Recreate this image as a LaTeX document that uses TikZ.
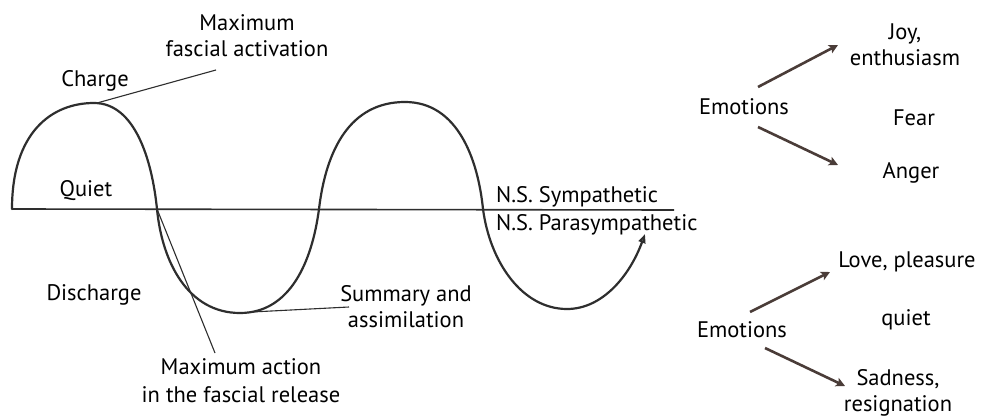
\documentclass[tikz,border=0pt]{standalone}
\usepackage{fontspec}
\setmainfont{PT Sans}
\usetikzlibrary{arrows.meta}
\definecolor{ink}{HTML}{2E2E2E}
\definecolor{brownink}{HTML}{4A3C38}
\tikzset{
  lbl/.style={font=\fontsize{22.5}{26}\selectfont, align=center, inner sep=0pt, text=black},
  wave/.style={draw=ink, line width=2.2pt, line join=round, line cap=round},
  axisline/.style={draw=ink, line width=1.6pt},
  leader/.style={draw=ink, line width=1.1pt},
  emoarrow/.style={draw=brownink, line width=2.6pt, -{Stealth[length=9pt,width=9pt,inset=2pt]}}
}
\begin{document}
\begin{tikzpicture}[x=1pt,y=-1pt]
\useasboundingbox (0,0) rectangle (981,419);
\fill[white] (0,0) rectangle (981,419);
% axis
\coordinate (axL) at (12,209);
\coordinate (axR) at (674,210);
\draw[axisline] (axL) -- (axR);
% wave
\coordinate (pk1) at (94,103);
\coordinate (x1) at (157,209);
\coordinate (tr1) at (240,313);
\coordinate (tr1b) at (252,312);
\coordinate (x2) at (319,209);
\coordinate (pk2) at (405,102);
\coordinate (x3) at (483,209);
\coordinate (tr2) at (567,309);
\coordinate (wend) at (645,234);
\draw[wave, -{Triangle[open,length=9pt,width=7pt]}] (axL)
  .. controls (12,132) and (52,103) .. (pk1)
  .. controls (135,103) and (152,160) .. (x1)
  .. controls (162,262) and (188,313) .. (tr1)
  .. controls (290,313) and (312,262) .. (x2)
  .. controls (326,150) and (350,102) .. (pk2)
  .. controls (458,102) and (478,160) .. (x3)
  .. controls (490,262) and (522,309) .. (tr2)
  .. controls (603,309) and (630,275) .. (wend);
% labels left
\node[lbl] (charge) at (95,81) {Charge};
\node[lbl] (quiet) at (86,191) {Quiet};
\node[lbl] (discharge) at (94,295) {Discharge};
\node[lbl] (maxfa) at (247,36) {Maximum\\fascial activation};
\coordinate (mfaend) at (216,70);
\draw[leader] (pk1) ++(3,0) -- (mfaend);
\node[lbl, font=\fontsize{22.5}{28}\selectfont] (maxact) at (241,381) {Maximum action\\in the fascial release};
\coordinate (maend) at (215,353);
\draw[leader] (x1) -- (maend);
\node[lbl] (summary) at (406,307) {Summary and\\assimilation};
\coordinate (sumend) at (349,307);
\draw[leader] (tr1b) -- (sumend);
\node[lbl, anchor=west] (sym) at (496,197) {N.S. Sympathetic};
\node[lbl, anchor=west] (para) at (496,225) {N.S. Parasympathetic};
% right top
\node[lbl] (emo1) at (744,107) {Emotions};
\node[lbl] (joy) at (905,45) {Joy,\\enthusiasm};
\node[lbl] (fear) at (914,118) {Fear};
\node[lbl] (anger) at (911,173) {Anger};
\draw[emoarrow] (758,87) -- (838,45);
\draw[emoarrow] (758,127) -- (838,165);
% right bottom
\node[lbl] (emo2) at (742,330) {Emotions};
\node[lbl] (love) at (907,262) {Love, pleasure};
\node[lbl] (quiet2) at (906,320) {quiet};
\node[lbl, font=\fontsize{22.5}{26}\selectfont] (sad) at (898,393) {Sadness,\\resignation};
\draw[emoarrow] (750,312) -- (830,272);
\draw[emoarrow] (765,348) -- (845,386);
\end{tikzpicture}
\end{document}
